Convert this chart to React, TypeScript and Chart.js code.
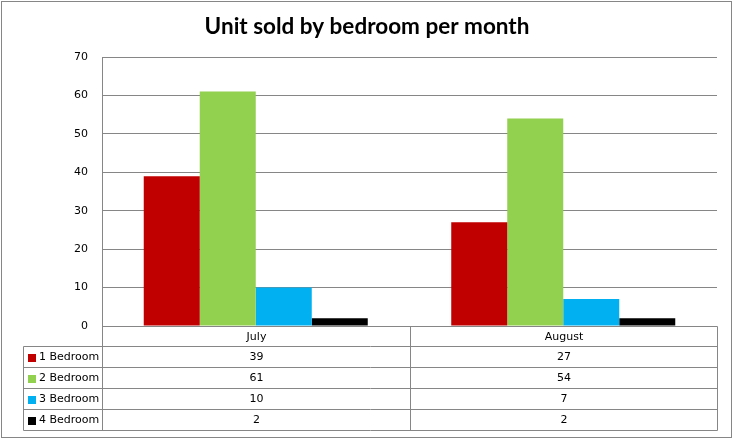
import React, { useEffect, useRef } from "react";
import { Chart, registerables, Plugin } from "chart.js";

Chart.register(...registerables);

// data
const months = ["July", "August"];
const seriesNames = ["1 Bedroom", "2 Bedroom", "3 Bedroom", "4 Bedroom"];
const oneBedroom = [39, 27];
const twoBedroom = [61, 54];
const threeBedroom = [10, 7];
const fourBedroom = [2, 2];
const seriesColors = ["#C00000", "#92D050", "#00B0F0", "#000000"];

const gridColor = "#868686";
const tableFont = "11px 'DejaVu Sans'";

// draws the white background and outer frame
const framePlugin: Plugin<"bar"> = {
  id: "frame",
  beforeDraw(chart) {
    const ctx = chart.ctx;
    ctx.save();
    ctx.fillStyle = "#ffffff";
    ctx.fillRect(0, 0, chart.width, chart.height);
    ctx.strokeStyle = gridColor;
    ctx.lineWidth = 1;
    ctx.strokeRect(1.5, 1.5, chart.width - 4, chart.height - 3);
    ctx.restore();
  },
};

// Excel style data table under the plot
const dataTablePlugin: Plugin<"bar"> = {
  id: "dataTable",
  afterDraw(chart) {
    const ctx = chart.ctx;
    const area = chart.chartArea;
    const xScale = chart.scales.x;
    const headerH = 20;
    const rowH = 21;
    const legendLeft = 23;
    const top = Math.round(area.bottom) + 0.5;
    const left = Math.round(area.left) + 0.5;
    const right = Math.round(area.right) + 0.5;
    const bottom = top + headerH + rowH * seriesNames.length;

    // column edges from the category scale
    const edges = [left];
    for (let i = 0; i < months.length - 1; i++) {
      const mid = (xScale.getPixelForValue(i) + xScale.getPixelForValue(i + 1)) / 2;
      edges.push(Math.round(mid) + 0.5);
    }
    edges.push(right);

    ctx.save();
    ctx.strokeStyle = gridColor;
    ctx.lineWidth = 1;
    ctx.beginPath();
    ctx.moveTo(left, top);
    ctx.lineTo(right, top);
    for (let r = 0; r <= seriesNames.length; r++) {
      const y = top + headerH + r * rowH;
      ctx.moveTo(legendLeft + 0.5, y);
      ctx.lineTo(right, y);
    }
    edges.forEach((x) => {
      ctx.moveTo(x, top);
      ctx.lineTo(x, bottom);
    });
    ctx.moveTo(legendLeft + 0.5, top + headerH);
    ctx.lineTo(legendLeft + 0.5, bottom);
    ctx.stroke();

    ctx.font = tableFont;
    ctx.fillStyle = "#000000";
    ctx.textBaseline = "middle";
    ctx.textAlign = "center";
    months.forEach((m, i) => {
      const cx = (edges[i] + edges[i + 1]) / 2;
      ctx.fillText(m, cx, top + headerH / 2 + 0.5);
    });

    chart.data.datasets.forEach((ds, r) => {
      const cy = top + headerH + r * rowH + rowH / 2 + 0.5;
      ctx.fillStyle = seriesColors[r];
      ctx.fillRect(legendLeft + 5, Math.round(cy - 4), 8, 8);
      ctx.fillStyle = "#000000";
      ctx.textAlign = "left";
      ctx.fillText(String(ds.label), legendLeft + 16, cy);
      ctx.textAlign = "center";
      (ds.data as number[]).forEach((v, i) => {
        const cx = (edges[i] + edges[i + 1]) / 2;
        ctx.fillText(String(v), cx, cy);
      });
    });
    ctx.restore();
  },
};

const App = () => {
  const canvasRef = useRef<HTMLCanvasElement | null>(null);

  useEffect(() => {
    document.body.style.margin = "0";
    if (!canvasRef.current) return;
    const values = [oneBedroom, twoBedroom, threeBedroom, fourBedroom];
    const chart = new Chart(canvasRef.current, {
      type: "bar",
      data: {
        labels: months,
        datasets: seriesNames.map((name, i) => ({
          label: name,
          data: values[i],
          backgroundColor: seriesColors[i],
          borderWidth: 0,
          barPercentage: 1,
          categoryPercentage: 0.7285,
        })),
      },
      options: {
        responsive: false,
        animation: false,
        devicePixelRatio: 1,
        layout: { padding: { left: 0, right: 0, top: 0, bottom: 113 } },
        plugins: {
          legend: { display: false },
          tooltip: { enabled: false },
          title: {
            display: true,
            text: "Unit sold by bedroom per month",
            color: "#000000",
            font: { family: "Lato", size: 22.5, weight: "bold" },
            padding: { top: 13, bottom: 17 },
          },
        },
        scales: {
          x: { display: false },
          y: {
            min: 0,
            max: 70,
            ticks: {
              stepSize: 10,
              color: "#000000",
              font: { family: "DejaVu Sans", size: 11 },
              padding: 14,
            },
            grid: { color: gridColor, drawTicks: false },
            border: { display: true, color: gridColor },
            afterFit: (scale) => {
              scale.width = 102;
            },
          },
          // empty right axis only reserves the right margin
          yRight: {
            position: "right",
            display: true,
            ticks: { display: false },
            grid: { display: false },
            border: { display: false },
            afterFit: (scale) => {
              scale.width = 17;
            },
          },
        },
      },
      plugins: [framePlugin, dataTablePlugin],
    });
    return () => chart.destroy();
  }, []);

  return (
    <div style={{ width: 734, height: 439 }}>
      <canvas ref={canvasRef} width={734} height={439} />
    </div>
  );
};

export default App;
